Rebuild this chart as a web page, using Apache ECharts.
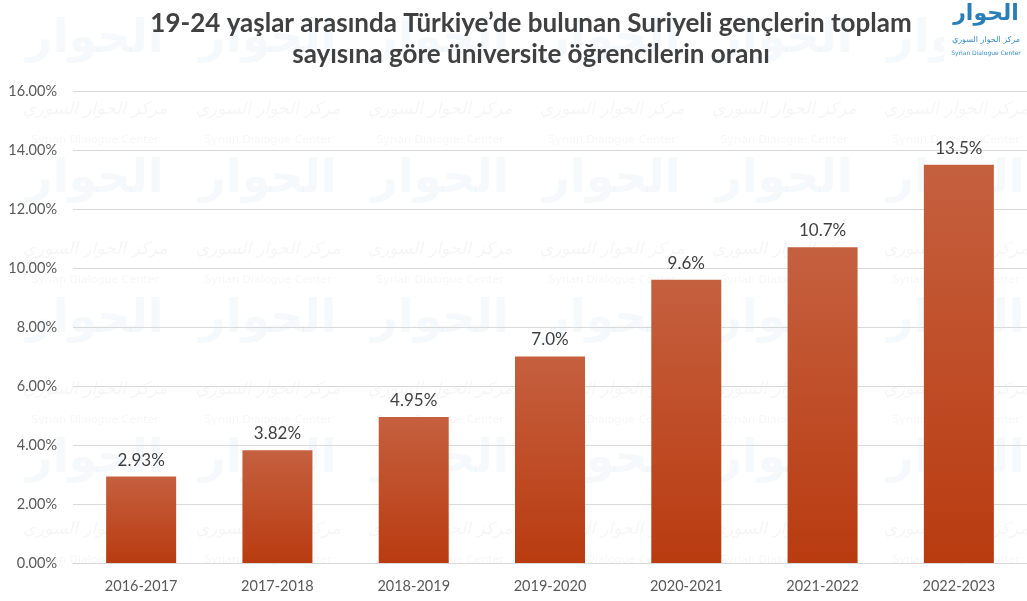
<!DOCTYPE html>
<html>
<head>
<meta charset="utf-8">
<script src="https://cdn.jsdelivr.net/npm/echarts@6/dist/echarts.min.js"></script>
<style>
  html, body { margin: 0; padding: 0; background: #ffffff; }
  #chart { width: 1027px; height: 601px; }
</style>
</head>
<body>
<div id="chart"></div>
<script>
// Academic years on the category axis
const years = ['2016-2017', '2017-2018', '2018-2019', '2019-2020', '2020-2021', '2021-2022', '2022-2023'];
// Share of university students among Syrians aged 19-24 in Türkiye (percent)
const shares = [2.93, 3.82, 4.95, 7.0, 9.6, 10.7, 13.5];
// Decimal places shown in each bar label
const labelDecimals = [2, 2, 2, 1, 1, 1, 1];
// Value axis ticks (percent)
const yMin = 0, yMax = 16, yStep = 2;

const titleLines = [
  '19-24 yaşlar arasında Türkiye’de bulunan Suriyeli gençlerin toplam',
  'sayısına göre üniversite öğrencilerin oranı'
];

const brandWord = 'الحوار';
const brandName = 'مركز الحوار السوري';
const brandEnglish = 'Syrian Dialogue Center';

const chart = echarts.init(document.getElementById('chart'), null, { renderer: 'canvas' });

const fontFamily = 'Lato, "Open Sans", "DejaVu Sans", sans-serif';

// Faint repeated brand watermark behind the plot
const watermark = [];
const tileCols = [95, 268, 440, 612, 784, 956];
const logoRows = [40, 180, 320, 460];
tileCols.forEach(cx => {
  logoRows.forEach(cy => {
    watermark.push({
      type: 'text', z: -10, x: cx, y: cy,
      style: {
        text: brandWord, align: 'center', verticalAlign: 'middle',
        font: 'bold 46px "DejaVu Sans", sans-serif', fill: 'rgba(90,150,200,0.06)'
      }
    });
    watermark.push({
      type: 'text', z: -10, x: cx, y: cy + 70,
      style: {
        text: brandName, align: 'center', verticalAlign: 'middle',
        font: 'italic 17px "DejaVu Sans", sans-serif', fill: 'rgba(0,0,0,0.04)'
      }
    });
    watermark.push({
      type: 'text', z: -10, x: cx, y: cy + 100,
      style: {
        text: brandEnglish, align: 'center', verticalAlign: 'middle',
        font: '11px "DejaVu Sans", sans-serif', fill: 'rgba(0,0,0,0.04)'
      }
    });
  });
});

chart.setOption({
  backgroundColor: '#ffffff',
  animation: false,
  title: {
    text: titleLines.join('\n'),
    left: 526,
    top: 3,
    textAlign: 'center',
    textStyle: {
      fontFamily: fontFamily,
      fontSize: 26,
      fontWeight: 'bold',
      color: '#404040',
      lineHeight: 31
    }
  },
  graphic: watermark.concat([
    {
      type: 'rect', z: 5, left: 944, top: 0,
      shape: { width: 83, height: 62 },
      style: { fill: '#ffffff' }
    },
    {
      type: 'text', z: 6, x: 986, y: 14,
      style: { text: brandWord, align: 'center', verticalAlign: 'middle',
        font: 'bold 22px "DejaVu Sans", sans-serif', fill: '#2a7fb8' }
    },
    {
      type: 'text', z: 6, x: 986, y: 40,
      style: { text: brandName, align: 'center', verticalAlign: 'middle',
        font: '8px "DejaVu Sans", sans-serif', fill: '#3a8ec4' }
    },
    {
      type: 'text', z: 6, x: 986, y: 53,
      style: { text: brandEnglish, align: 'center', verticalAlign: 'middle',
        font: '6px "DejaVu Sans", sans-serif', fill: '#3a8ec4' }
    }
  ]),
  grid: {
    left: 73,
    top: 91,
    width: 958,
    height: 472,
    containLabel: false
  },
  xAxis: {
    type: 'category',
    data: years,
    axisLine: { show: true, lineStyle: { color: '#d9d9d9', width: 1 } },
    axisTick: { show: false },
    axisLabel: {
      color: '#595959',
      fontFamily: fontFamily,
      fontSize: 14.5,
      margin: 16
    }
  },
  yAxis: {
    type: 'value',
    min: yMin,
    max: yMax,
    interval: yStep,
    axisLine: { show: false },
    axisTick: { show: false },
    splitLine: { lineStyle: { color: '#d9d9d9', width: 1 } },
    axisLabel: {
      color: '#595959',
      fontFamily: fontFamily,
      fontSize: 14.5,
      margin: 16,
      formatter: v => v.toFixed(2) + '%'
    }
  },
  series: [{
    type: 'bar',
    data: shares,
    barWidth: 70,
    itemStyle: {
      color: new echarts.graphic.LinearGradient(0, 0, 0, 1, [
        { offset: 0, color: '#c5603f' },
        { offset: 1, color: '#b93b10' }
      ])
    },
    label: {
      show: true,
      position: 'top',
      distance: 8,
      color: '#404040',
      fontFamily: fontFamily,
      fontSize: 17,
      formatter: p => shares[p.dataIndex].toFixed(labelDecimals[p.dataIndex]) + '%'
    }
  }]
});
</script>
</body>
</html>
